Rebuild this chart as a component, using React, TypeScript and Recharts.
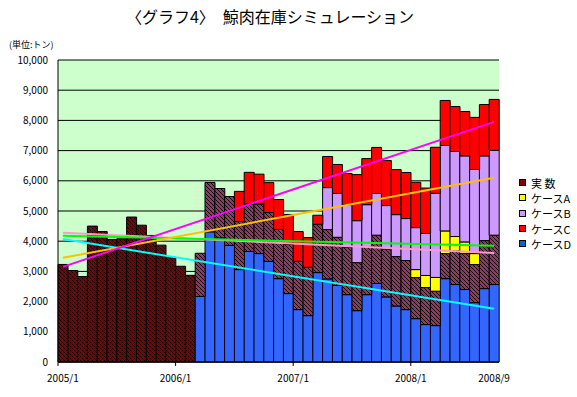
import React from 'react';
import { ComposedChart, Bar, Line, XAxis, YAxis, CartesianGrid } from 'recharts';

// categories: one per month, 2005/1 .. 2008/9
const months = [
  '2005/1', '2005/2', '2005/3', '2005/4', '2005/5', '2005/6', '2005/7', '2005/8', '2005/9', '2005/10', '2005/11', '2005/12',
  '2006/1', '2006/2', '2006/3', '2006/4', '2006/5', '2006/6', '2006/7', '2006/8', '2006/9', '2006/10', '2006/11', '2006/12',
  '2007/1', '2007/2', '2007/3', '2007/4', '2007/5', '2007/6', '2007/7', '2007/8', '2007/9', '2007/10', '2007/11', '2007/12',
  '2008/1', '2008/2', '2008/3', '2008/4', '2008/5', '2008/6', '2008/7', '2008/8', '2008/9',
];

const labelledMonths = ['2005/1', '2006/1', '2007/1', '2008/1', '2008/9'];
const yTicks = [0, 1000, 2000, 3000, 4000, 5000, 6000, 7000, 8000, 9000, 10000];

// 実数 (2005/1 - 2006/2)
const actual = [3230, 3030, 2830, 4500, 4320, 4060, 4080, 4800, 4530, 4190, 3870, 3470, 3170, 2870];

// simulation segments, from 2006/3 on (segment heights)
const caseD = [2170, 4310, 4110, 3860, 3060, 3660, 3590, 3330, 2760, 2265, 1735, 1535, 2960, 2750, 2540, 2230,
  1700, 2230, 2600, 2155, 1855, 1735, 1435, 1240, 1205, 2760, 2565, 2400, 1965, 2430, 2565];
const hatched = [1430, 1635, 1635, 1620, 1590, 1570, 1640, 1620, 1630, 1625, 1600, 1600, 1600, 1635, 1590, 1580,
  1590, 1580, 1600, 1590, 1635, 1625, 1360, 1225, 1140, 830, 1115, 1190, 1260, 1590, 1635];
// ケースA: 2008/1 - 2008/7
const caseA = [265, 400, 455, 750, 475, 385, 365];
// ケースB: 2007/4 - 2008/9
const caseB = [1390, 1450, 1400, 1390, 1400, 1380, 1435, 1390, 1390, 1390, 1390, 2785, 2830, 2815, 2850, 2785, 2805, 2805];
// ケースC: 2006/7 - 2008/9
const caseC = [1000, 1050, 990, 990, 990, 995, 985, 985, 300, 1030, 960, 1030, 1525, 1525, 1525, 1490,
  1490, 1525, 1500, 1505, 1525, 1490, 1490, 1470, 1725, 1700, 1690];

// trend lines: [value at 2005/1, value at 2008/9]
const trendMagenta = [3150, 7950];
const trendOrange = [3450, 6100];
const trendCyan = [4070, 1760];
const trendGreen = [4180, 3850];
const trendPink = [4280, 3610];

const W = 577;
const H = 397;
const M_LEFT = 58;
const M_RIGHT = 78;
const PLOT_W = W - M_LEFT - M_RIGHT;
const BW = PLOT_W / months.length;
const FONT = "'MS PGothic', 'Noto Sans CJK JP', sans-serif";

const startOf = (label: string) => months.indexOf(label);
const pick = (arr: number[], start: number, i: number) =>
  i >= start && i < start + arr.length ? arr[i - start] : null;
const ends = (arr: number[], i: number) => (i === 0 ? arr[0] : i === months.length - 1 ? arr[1] : null);

const data = months.map((m, i) => ({
  month: m,
  actual: pick(actual, 0, i),
  d: pick(caseD, startOf('2006/3'), i),
  h: pick(hatched, startOf('2006/3'), i),
  a: pick(caseA, startOf('2008/1'), i),
  b: pick(caseB, startOf('2007/4'), i),
  c: pick(caseC, startOf('2006/7'), i),
  tM: ends(trendMagenta, i),
  tO: ends(trendOrange, i),
  tC: ends(trendCyan, i),
  tG: ends(trendGreen, i),
  tP: ends(trendPink, i),
}));

const legendItems = [
  { name: '実 数', color: '#800000' },
  { name: 'ケースA', color: '#FFFF00' },
  { name: 'ケースB', color: '#CC99FF' },
  { name: 'ケースC', color: '#FF0000' },
  { name: 'ケースD', color: '#0066CC' },
];

const XTick = (props: any) => {
  const { x, y, index, payload } = props;
  const last = index === months.length - 1;
  const edge = x - BW / 2;
  const isLabel = labelledMonths.includes(payload.value);
  const tickMark = isLabel && !last;
  const tx = index === 0 || last ? x : edge;
  return (
    <g>
      {tickMark && <line x1={edge} x2={edge} y1={y} y2={y + 4} stroke="#000" />}
      {isLabel && (
        <text x={tx} y={y + 20} textAnchor="middle" fontSize={10} fill="#000" fontFamily={FONT}>
          {payload.value}
        </text>
      )}
    </g>
  );
};

export default function App() {
  return (
    <div style={{ position: 'absolute', left: 0, top: 0, width: W, height: H, background: '#fff', overflow: 'hidden' }}>
      <div
        style={{
          position: 'absolute',
          left: 0,
          width: 540,
          top: 4,
          textAlign: 'center',
          fontFamily: FONT,
          fontSize: 16,
          color: '#000',
        }}
      >
        〈グラフ4〉　鯨肉在庫シミュレーション
      </div>
      <div style={{ position: 'absolute', left: 9, top: 38, fontFamily: FONT, fontSize: 9, color: '#000' }}>
        (単位:トン)
      </div>
      <ComposedChart
        width={W}
        height={H}
        data={data}
        margin={{ top: 60, right: M_RIGHT, bottom: 0, left: 0 }}
        barCategoryGap={0}
        barGap={0}
      >
        <defs>
          <pattern id="hatchRed" width={4} height={4} patternUnits="userSpaceOnUse">
            <rect width={4} height={4} fill="#800000" />
            <path d="M-1,-1 l2,2 M0,0 l4,4 M3,3 l2,2" stroke="#000" strokeWidth={1} />
          </pattern>
          <pattern id="hatchPurple" width={4} height={4} patternUnits="userSpaceOnUse">
            <rect width={4} height={4} fill="#993366" />
            <path d="M-1,-1 l2,2 M0,0 l4,4 M3,3 l2,2" stroke="#000" strokeWidth={1} />
          </pattern>
        </defs>
        <CartesianGrid vertical={false} stroke="#000" fill="#CCFFCC" fillOpacity={1} />
        <XAxis
          dataKey="month"
          interval={0}
          height={35}
          tickSize={0}
          tickMargin={0}
          tickLine={false}
          axisLine={{ stroke: '#000' }}
          tick={<XTick />}
        />
        <YAxis
          width={M_LEFT}
          domain={[0, 10000]}
          ticks={yTicks}
          tickLine={false}
          tickMargin={4}
          axisLine={{ stroke: '#000' }}
          tickFormatter={(v: number) => v.toLocaleString('en-US')}
          tick={{ fill: '#000', fontSize: 10, fontFamily: FONT }}
        />
        <YAxis yAxisId="frame" orientation="right" width={0} tick={false} tickLine={false} axisLine={{ stroke: '#888' }} />
        <Bar dataKey="actual" stackId="s" fill="url(#hatchRed)" stroke="#000" strokeWidth={1} isAnimationActive={false} />
        <Bar dataKey="d" stackId="s" fill="#3366FF" stroke="#000" strokeWidth={1} isAnimationActive={false} />
        <Bar dataKey="h" stackId="s" fill="url(#hatchPurple)" stroke="#000" strokeWidth={1} isAnimationActive={false} />
        <Bar dataKey="a" stackId="s" fill="#FFFF00" stroke="#000" strokeWidth={1} isAnimationActive={false} />
        <Bar dataKey="b" stackId="s" fill="#CC99FF" stroke="#000" strokeWidth={1} isAnimationActive={false} />
        <Bar dataKey="c" stackId="s" fill="#FF0000" stroke="#000" strokeWidth={1} isAnimationActive={false} />
        <Line dataKey="tP" stroke="#FF99CC" strokeWidth={2} dot={false} connectNulls isAnimationActive={false} />
        <Line dataKey="tG" stroke="#00FF00" strokeWidth={2} dot={false} connectNulls isAnimationActive={false} />
        <Line dataKey="tC" stroke="#00FFFF" strokeWidth={2} dot={false} connectNulls isAnimationActive={false} />
        <Line dataKey="tO" stroke="#FFC000" strokeWidth={2} dot={false} connectNulls isAnimationActive={false} />
        <Line dataKey="tM" stroke="#FF00FF" strokeWidth={2} dot={false} connectNulls isAnimationActive={false} />
      </ComposedChart>
      <div style={{ position: 'absolute', left: 519, top: 175, fontFamily: FONT, fontSize: 11, color: '#000' }}>
        {legendItems.map((it) => (
          <div key={it.name} style={{ display: 'flex', alignItems: 'center', height: 15.3 }}>
            <span
              style={{
                display: 'inline-block',
                width: 5,
                height: 5,
                background: it.color,
                border: '1px solid #000',
                marginRight: 5,
              }}
            />
            <span>{it.name}</span>
          </div>
        ))}
      </div>
    </div>
  );
}
